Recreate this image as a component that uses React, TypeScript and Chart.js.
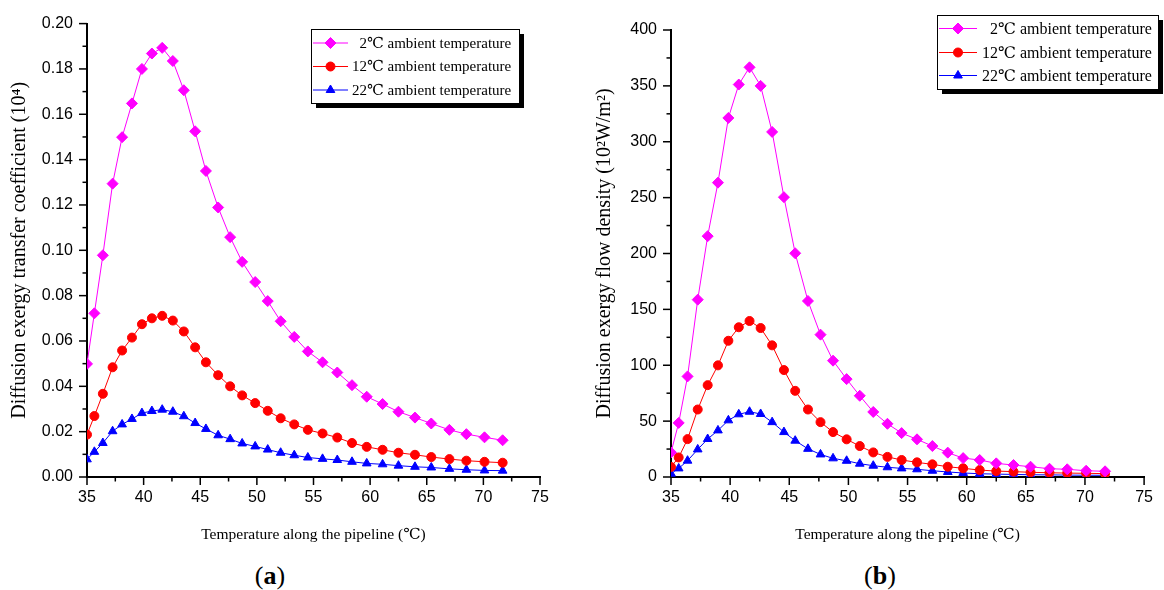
import React, { useEffect, useRef } from 'react';
import { Chart, registerables } from 'chart.js';
import { drawPoint } from 'chart.js/helpers';

Chart.register(...registerables);

// ---------- data ----------
const temps = [35.0, 35.65, 36.4, 37.26, 38.1, 38.97, 39.85, 40.73, 41.64, 42.58, 43.55, 44.55, 45.5, 46.58, 47.64, 48.7, 49.85, 50.96, 52.1, 53.3, 54.5, 55.8, 57.1, 58.4, 59.7, 61.1, 62.5, 63.96, 65.4, 67.0, 68.5, 70.1, 71.7];

const seriesLabels = ['2\u2103 ambient temperature', '12\u2103 ambient temperature', '22\u2103 ambient temperature'];

// (a) diffusion exergy transfer coefficient (10^4)
const coef2 = [0.0499, 0.0722, 0.0978, 0.1294, 0.1499, 0.1648, 0.1800, 0.1868, 0.1893, 0.1835, 0.1706, 0.1525, 0.1350, 0.1189, 0.1058, 0.0949, 0.0860, 0.0776, 0.0687, 0.0618, 0.0554, 0.0506, 0.0461, 0.0405, 0.0354, 0.0322, 0.0288, 0.0262, 0.0236, 0.0208, 0.0189, 0.0175, 0.0162];
const coef12 = [0.0187, 0.0269, 0.0367, 0.0484, 0.0558, 0.0615, 0.0674, 0.0700, 0.0711, 0.0690, 0.0642, 0.0572, 0.0506, 0.0449, 0.0400, 0.0360, 0.0326, 0.0292, 0.0259, 0.0232, 0.0208, 0.0192, 0.0174, 0.0150, 0.0133, 0.0120, 0.0107, 0.0098, 0.0088, 0.0079, 0.0072, 0.0067, 0.0063];
const coef22 = [0.0078, 0.0111, 0.0150, 0.0202, 0.0232, 0.0256, 0.0282, 0.0291, 0.0297, 0.0288, 0.0268, 0.0238, 0.0212, 0.0184, 0.0167, 0.0148, 0.0135, 0.0121, 0.0107, 0.0096, 0.0086, 0.0080, 0.0075, 0.0067, 0.0060, 0.0056, 0.0050, 0.0045, 0.0042, 0.0036, 0.0032, 0.0029, 0.0028];

// (b) diffusion exergy flow density (10^2 W/m^2)
const flux2 = [22, 48.4, 90, 158.7, 215.5, 263.4, 321.3, 351.2, 366.6, 350.0, 308.8, 250.4, 200.2, 157.5, 127.4, 104.1, 87.6, 72.7, 58.2, 47.6, 39.3, 33.7, 27.7, 21.8, 16.9, 15.2, 12.2, 10.7, 9.2, 7.4, 6.9, 5.6, 5.1];
const flux12 = [9, 17.5, 33.9, 60.4, 82.2, 99.9, 121.9, 134.0, 139.6, 133.3, 117.8, 95.7, 77.1, 60.4, 49.1, 40.2, 33.7, 27.7, 22.0, 18.0, 15.2, 13.1, 11.3, 9.2, 7.8, 6.2, 5.3, 4.8, 4.2, 3.8, 3.5, 3.3, 3.0];
const flux22 = [3, 7.7, 14.6, 24.7, 34.0, 41.7, 50.7, 56.1, 58.4, 56.4, 49.1, 40.2, 32.5, 25.2, 20.2, 16.7, 14.5, 11.9, 10.1, 8.7, 7.7, 6.9, 5.6, 4.5, 3.6, 2.9, 2.6, 2.3, 2.0, 1.9, 1.7, 1.6, 1.5];

const xTickValues = [35, 40, 45, 50, 55, 60, 65, 70, 75];

// ---------- styles ----------
const TICK_FONT = "'Liberation Sans Narrow', 'Arial Narrow', 'Liberation Sans', Arial, sans-serif";
const SERIF = "'Liberation Serif', 'Times New Roman', 'DejaVu Serif', serif";

const seriesStyles = [
  { color: '#ff00ff', pointStyle: 'rectRot', radius: 5.5 },
  { color: '#ff0000', pointStyle: 'circle', radius: 4.5 },
  { color: '#0000ff', pointStyle: 'triangle', radius: 5 },
];

// ---------- plugins ----------
const axisTicks = {
  id: 'axisTicks',
  afterDraw(chart: any, _args: any, opts: any) {
    const { ctx } = chart;
    const xs = chart.scales.x;
    const ys = chart.scales.y;
    ctx.save();
    ctx.strokeStyle = '#000';
    ctx.lineWidth = 1.5;
    const nx = Math.round((xs.max - xs.min) / opts.xStep);
    for (let i = 0; i <= nx; i++) {
      const p = xs.getPixelForValue(xs.min + i * opts.xStep);
      const len = i % 2 === 0 ? opts.major : opts.minor;
      ctx.beginPath();
      ctx.moveTo(p, ys.bottom);
      ctx.lineTo(p, ys.bottom + len);
      ctx.stroke();
    }
    const ny = Math.round((ys.max - ys.min) / opts.yStep);
    for (let i = 0; i <= ny; i++) {
      const p = ys.getPixelForValue(ys.min + i * opts.yStep);
      const len = i % 2 === 0 ? opts.major : opts.minor;
      ctx.beginPath();
      ctx.moveTo(xs.left, p);
      ctx.lineTo(xs.left - len, p);
      ctx.stroke();
    }
    ctx.restore();
  },
};

const boxLegend = {
  id: 'boxLegend',
  afterDraw(chart: any, _args: any, o: any) {
    const { ctx } = chart;
    ctx.save();
    ctx.fillStyle = '#000';
    ctx.fillRect(o.x + o.shadow, o.y + o.shadow, o.w, o.h);
    ctx.fillStyle = '#fff';
    ctx.fillRect(o.x, o.y, o.w, o.h);
    ctx.strokeStyle = '#000';
    ctx.lineWidth = 1;
    ctx.strokeRect(o.x + 0.5, o.y + 0.5, o.w, o.h);
    ctx.font = `${o.fontSize}px ${SERIF}`;
    ctx.textBaseline = 'middle';
    ctx.textAlign = 'left';
    chart.data.datasets.forEach((ds: any, i: number) => {
      const yy = o.rows[i];
      ctx.strokeStyle = ds.borderColor;
      ctx.lineWidth = 1;
      ctx.beginPath();
      ctx.moveTo(o.lineX1, yy);
      ctx.lineTo(o.lineX2, yy);
      ctx.stroke();
      ctx.fillStyle = ds.pointBackgroundColor;
      ctx.strokeStyle = ds.pointBorderColor;
      drawPoint(ctx, { pointStyle: ds.pointStyle, radius: ds.pointRadius, borderWidth: 1, rotation: 0 } as any, (o.lineX1 + o.lineX2) / 2, yy);
      const label: string = ds.label;
      const shift = /^\d\u2103/.test(label) ? ctx.measureText('1').width : 0;
      ctx.fillStyle = '#000';
      ctx.fillText(label, o.textX + shift, yy + 1);
    });
    ctx.restore();
  },
};

function makeDatasets(values: number[][]) {
  return values.map((vals, i) => ({
    label: seriesLabels[i],
    data: temps.map((t, j) => ({ x: t, y: vals[j] })),
    borderColor: seriesStyles[i].color,
    backgroundColor: seriesStyles[i].color,
    pointBackgroundColor: seriesStyles[i].color,
    pointBorderColor: seriesStyles[i].color,
    pointStyle: seriesStyles[i].pointStyle,
    pointRadius: seriesStyles[i].radius,
    pointBorderWidth: 1,
    borderWidth: 1,
    tension: 0,
    fill: false,
  }));
}

function makeConfig(p: any): any {
  return {
    type: 'line',
    data: { datasets: makeDatasets(p.values) },
    plugins: [axisTicks, boxLegend],
    options: {
      responsive: false,
      animation: false,
      devicePixelRatio: 1,
      layout: { padding: p.padding },
      plugins: {
        legend: { display: false },
        tooltip: { enabled: false },
        axisTicks: { xStep: 2.5, yStep: p.yMinor, major: 8, minor: 4.5 },
        boxLegend: p.legend,
      },
      scales: {
        x: {
          type: 'linear',
          min: 35,
          max: 75,
          afterBuildTicks: (s: any) => { s.ticks = xTickValues.map((v) => ({ value: v })); },
          ticks: { color: '#000', font: { family: TICK_FONT, size: 16 }, padding: 11, maxRotation: 0 },
          grid: { display: false, drawTicks: false },
          border: { display: true, color: '#000', width: 2 },
          title: { display: true, text: 'Temperature along the pipeline (\u2103)', color: '#000', font: { family: SERIF, size: 15.5 }, padding: { top: 0, bottom: 11 } },
          afterFit: (s: any) => { s.height = p.xHeight; },
        },
        y: {
          type: 'linear',
          min: 0,
          max: p.yMax,
          ticks: { stepSize: p.yStep, color: '#000', font: { family: TICK_FONT, size: 16 }, padding: 14, callback: p.yFormat },
          grid: { display: false, drawTicks: false },
          border: { display: true, color: '#000', width: 2 },
          title: { display: true, text: p.yTitle, color: '#000', font: { family: SERIF, size: 20 }, padding: { top: p.yTitlePad, bottom: 0 } },
          afterFit: (s: any) => { s.width = p.yWidth; },
        },
      },
    },
  };
}

function ChartBox({ config, left, width, height }: any) {
  const ref = useRef<HTMLCanvasElement>(null);
  useEffect(() => {
    if (!ref.current) return;
    const chart = new Chart(ref.current, config);
    return () => chart.destroy();
  }, [config]);
  return (
    <canvas ref={ref} width={width} height={height} style={{ position: 'absolute', left, top: 0, width, height }} />
  );
}

const CW = 582;
const CH = 555;

const configA = makeConfig({
  values: [coef2, coef12, coef22],
  padding: { left: 0, top: 20, right: CW - 540, bottom: 0 },
  xHeight: CH - 477,
  yWidth: 87,
  yMax: 0.2,
  yStep: 0.02,
  yMinor: 0.01,
  yFormat: (v: any) => Number(v).toFixed(2),
  yTitle: 'Diffusion exergy transfer coefficient (10\u2074)',
  yTitlePad: 8,
  legend: { x: 311, y: 29, w: 208, h: 74, shadow: 5, rows: [43, 66.5, 90], lineX1: 313, lineX2: 348, textX: 352, fontSize: 15 },
});

const configB = makeConfig({
  values: [flux2, flux12, flux22],
  padding: { left: 0, top: 30, right: CW - (1153 - 582), bottom: 0 },
  xHeight: CH - 477,
  yWidth: 671 - 582,
  yMax: 400,
  yStep: 50,
  yMinor: 25,
  yFormat: (v: any) => String(Math.round(Number(v))),
  yTitle: 'Diffusion exergy flow density (10\u00b2W/m\u00b2)',
  yTitlePad: 11,
  legend: { x: 937 - 582, y: 15, w: 221, h: 74, shadow: 5, rows: [28.5, 52.5, 75.5], lineX1: 357, lineX2: 395, textX: 400, fontSize: 16 },
});

export default function App() {
  useEffect(() => {
    document.body.style.margin = '0';
    document.body.style.background = '#fff';
  }, []);
  const labelStyle: any = { position: 'absolute', top: 561, width: 70, textAlign: 'center', fontFamily: SERIF, fontSize: 26, color: '#000', lineHeight: '30px' };
  return (
    <div style={{ position: 'relative', width: 1164, height: 590, background: '#fff', overflow: 'hidden' }}>
      <ChartBox config={configA} left={0} width={CW} height={CH} />
      <ChartBox config={configB} left={582} width={CW} height={CH} />
      <div style={{ ...labelStyle, left: 235 }}>(<b>a</b>)</div>
      <div style={{ ...labelStyle, left: 845 }}>(<b>b</b>)</div>
    </div>
  );
}
